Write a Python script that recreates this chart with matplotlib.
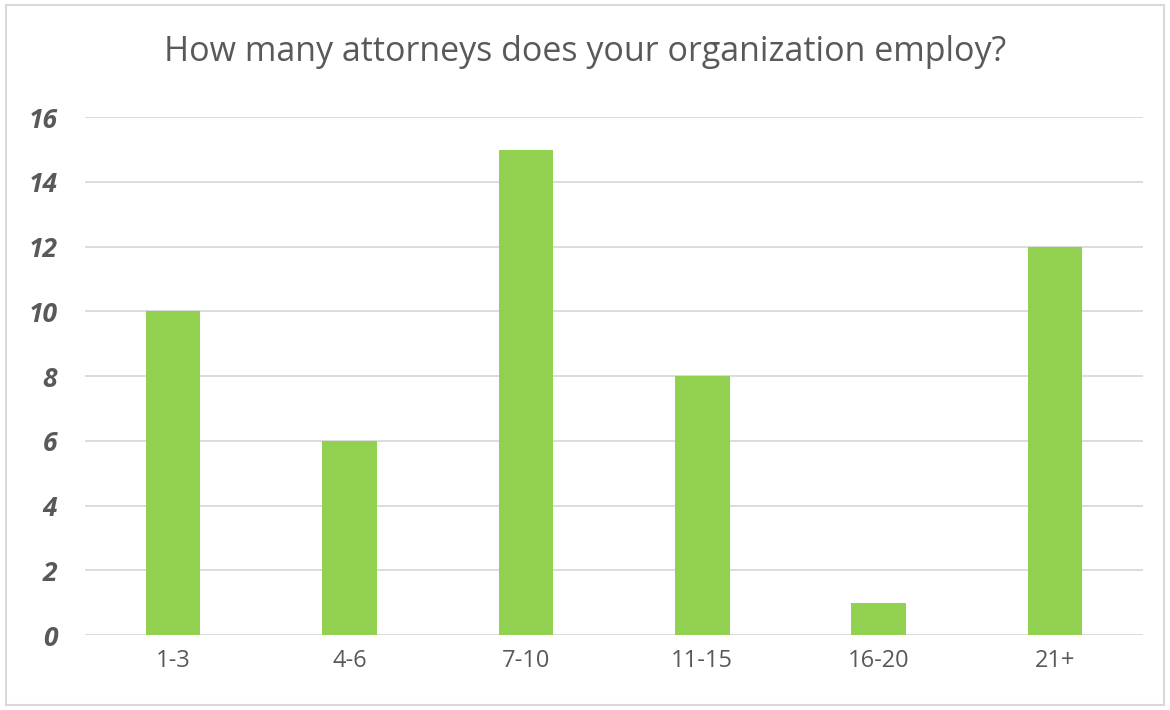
import matplotlib
matplotlib.use('Agg')
import matplotlib.pyplot as plt
from matplotlib.patches import Rectangle

# survey data
categories = ['1-3', '4-6', '7-10', '11-15', '16-20', '21+']
counts = [10, 6, 15, 8, 1, 12]
yticks = [0, 2, 4, 6, 8, 10, 12, 14, 16]

plt.rcParams['font.family'] = ['Open Sans', 'DejaVu Sans']
txt = '#595959'

fig = plt.figure(figsize=(11.7, 7.1), dpi=100)
ax = fig.add_axes([0.0726, 0.1056, 0.9044, 0.7294])

x = range(len(categories))
ax.bar(x, counts, width=0.31, color='#92D050', zorder=3)

ax.set_xlim(-0.5, len(categories) - 0.5)
ax.set_ylim(0, 16)
ax.set_yticks(yticks)
ax.set_xticks(list(x))
ax.set_xticklabels(categories, fontsize=17, color=txt)
ax.set_yticklabels([str(v) for v in yticks], fontsize=19, color=txt,
                   fontweight='bold', fontstyle='italic')
ax.tick_params(axis='both', length=0)
ax.tick_params(axis='y', pad=20)
ax.tick_params(axis='x', pad=10)
ax.grid(axis='y', color='#D9D9D9', linewidth=1.3, zorder=0)
for s in ax.spines.values():
    s.set_visible(False)

fig.text(0.5, 0.927, 'How many attorneys does your organization employ?',
         ha='center', va='center', fontsize=24.5, color=txt)

# light frame around the chart
fig.patches.append(Rectangle((0.005, 0.007), 0.99, 0.986, transform=fig.transFigure,
                             fill=False, edgecolor='#D9D9D9', linewidth=1.5))

fig.savefig('out.png', dpi=100)
